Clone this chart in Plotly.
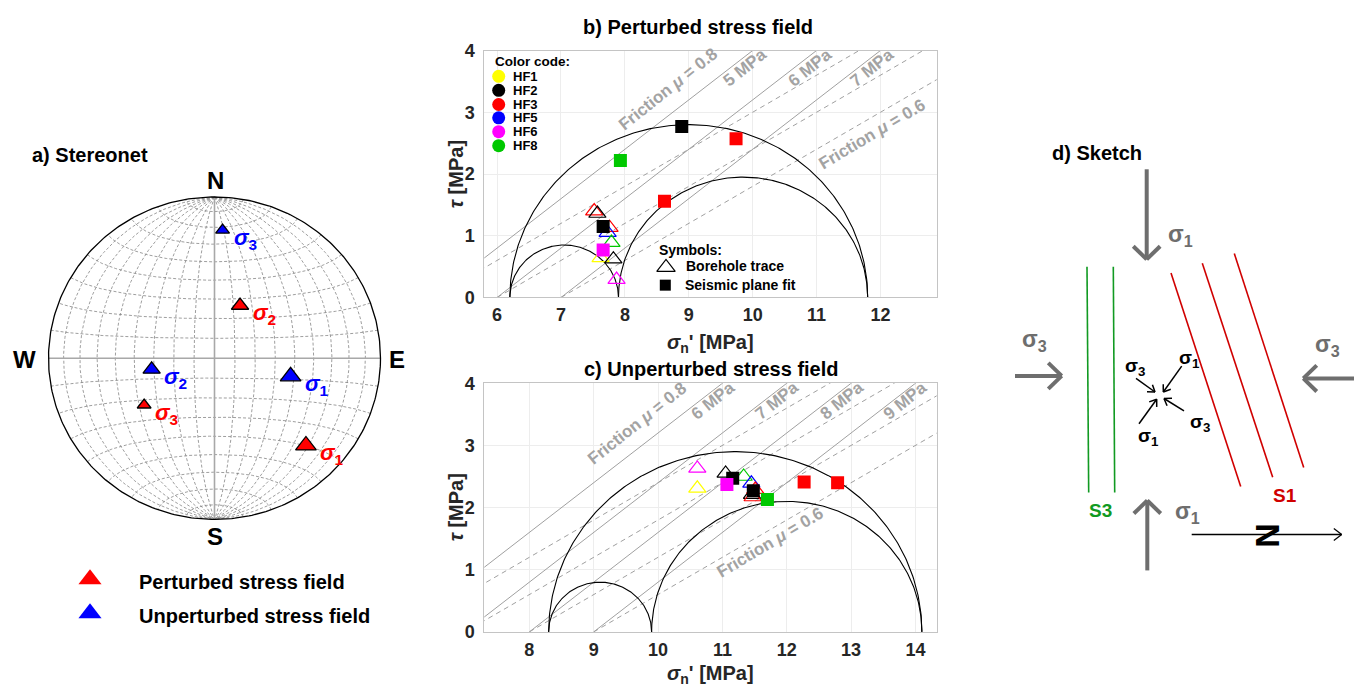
import numpy as np
import plotly.graph_objects as go

W, H = 1354, 696

# ---------------- data ----------------
hf_names = ["HF1", "HF2", "HF3", "HF5", "HF6", "HF8"]

# Panel b: perturbed stress field (effective principal stresses, MPa)
b_principal = [11.8, 7.9, 6.2]
b_pore = [5, 6, 7]
b_tri_hf = ["HF3", "HF2", "HF3", "HF5", "HF8", "HF1", "HF2", "HF6"]
b_tri_sn = [7.52, 7.57, 7.76, 7.73, 7.79, 7.62, 7.82, 7.87]
b_tri_tau = [1.40, 1.36, 1.13, 1.05, 0.89, 0.64, 0.62, 0.29]
b_sq_hf = ["HF2", "HF3", "HF8", "HF3", "HF2", "HF6"]
b_sq_sn = [8.89, 9.74, 7.93, 8.62, 7.66, 7.66]
b_sq_tau = [2.77, 2.57, 2.22, 1.56, 1.15, 0.77]

# Panel c: unperturbed stress field
c_principal = [14.1, 9.9, 8.3]
c_pore = [6, 7, 8, 9]
c_tri_hf = ["HF6", "HF1", "HF2", "HF8", "HF5", "HF2", "HF3", "HF3"]
c_tri_sn = [10.61, 10.61, 11.05, 11.33, 11.45, 11.46, 11.51, 11.47]
c_tri_tau = [2.63, 2.31, 2.55, 2.50, 2.39, 2.21, 2.29, 2.17]
c_sq_hf = ["HF2", "HF6", "HF2", "HF8", "HF3", "HF3"]
c_sq_sn = [11.16, 11.07, 11.48, 11.70, 12.27, 12.79]
c_sq_tau = [2.47, 2.37, 2.27, 2.13, 2.41, 2.40]

friction = [0.8, 0.6]

# Panel a: stereonet principal axes (trend, plunge in degrees)
st_field = ["Perturbed", "Perturbed", "Perturbed", "Unperturbed", "Unperturbed", "Unperturbed"]
st_axis = ["1", "2", "3", "1", "2", "3"]
st_trend = [134.5, 25.2, 235.6, 103.8, 259.6, 3.5]
st_plunge = [23.8, 60.4, 47.4, 51.0, 58.4, 21.5]

# ---------------- styles ----------------
hf_color = {"HF1": "#ffff00", "HF2": "#000000", "HF3": "#ff0000",
            "HF5": "#0000ff", "HF6": "#ff00ff", "HF8": "#00c800"}
field_color = {"Perturbed": "#ff0000", "Unperturbed": "#0000ff"}
axis_size = {"1": 18, "2": 15, "3": 12}
FONT = "Liberation Sans, Arial, sans-serif"
DARK = "#262626"
LGRAY = "#a3a3a3"

fig = go.Figure()
annotations = []
shapes = []


def px_dom_x(a, b):
    return [a / W, b / W]


def px_dom_y(top, bottom):
    return [1 - bottom / H, 1 - top / H]


# ---------------- Mohr panels ----------------
def mohr_panel(xa, ya, principal, pores, tri_hf, tri_sn, tri_tau, sq_hf, sq_sn, sq_tau, xmax):
    s1, s2, s3 = principal
    th = np.linspace(0, np.pi, 240)
    for pp in pores:
        for mu in friction:
            xs = np.array([pp, xmax + 1])
            fig.add_trace(go.Scatter(x=xs, y=mu * (xs - pp), mode="lines", xaxis=xa, yaxis=ya,
                                     line=dict(color="#a0a0a0", width=1,
                                               dash="solid" if mu == friction[0] else "5px,4px"),
                                     showlegend=False, hoverinfo="skip"))
    for a, b in [(s1, s3), (s2, s3), (s1, s2)]:
        c, r = (a + b) / 2, (a - b) / 2
        fig.add_trace(go.Scatter(x=c + r * np.cos(th), y=r * np.sin(th), mode="lines",
                                 xaxis=xa, yaxis=ya, line=dict(color="black", width=1.1),
                                 showlegend=False, hoverinfo="skip"))
    fig.add_trace(go.Scatter(x=tri_sn, y=tri_tau, mode="markers", xaxis=xa, yaxis=ya,
                             marker=dict(symbol="triangle-up-open", size=15, opacity=1,
                                         color=[hf_color[h] for h in tri_hf],
                                         line=dict(width=1.2)),
                             showlegend=False))
    fig.add_trace(go.Scatter(x=sq_sn, y=sq_tau, mode="markers", xaxis=xa, yaxis=ya,
                             marker=dict(symbol="square", size=13, opacity=1,
                                         color=[hf_color[h] for h in sq_hf],
                                         line=dict(width=0)),
                             showlegend=False))


mohr_panel("x", "y", b_principal, b_pore, b_tri_hf, b_tri_sn, b_tri_tau,
           b_sq_hf, b_sq_sn, b_sq_tau, 12.88)
mohr_panel("x2", "y2", c_principal, c_pore, c_tri_hf, c_tri_sn, c_tri_tau,
           c_sq_hf, c_sq_sn, c_sq_tau, 14.33)

axis_common = dict(showline=True, mirror=True, linecolor="#c4c4c4", linewidth=1,
                   showgrid=True, gridcolor="#ededed", zeroline=False, ticks="",
                   tickfont=dict(family=FONT, size=18, color=DARK, weight="bold"))

fig.update_layout(
    xaxis=dict(domain=px_dom_x(484.3, 936.7), range=[5.8, 12.88], dtick=1, anchor="y",
               ticklabelstandoff=1, **axis_common),
    yaxis=dict(domain=px_dom_y(41.7, 296), range=[0, 4], dtick=1, anchor="x",
               ticklabelstandoff=5, **axis_common),
    xaxis2=dict(domain=px_dom_x(484.3, 936.7), range=[7.3, 14.33], dtick=1, anchor="y2",
                ticklabelstandoff=1, **axis_common),
    yaxis2=dict(domain=px_dom_y(384.3, 640.3), range=[0, 4], dtick=1, anchor="x2",
                ticklabelstandoff=5, **axis_common),
)


def ann(x, y, text, size, color=DARK, xref="x4", yref="y4", angle=0, xanchor="center",
        yanchor="middle", xshift=0, yshift=0):
    annotations.append(dict(x=x, y=y, xref=xref, yref=yref, text=text, showarrow=False,
                            textangle=angle, xanchor=xanchor, yanchor=yanchor,
                            xshift=xshift, yshift=yshift,
                            font=dict(family=FONT, size=size, color=color, weight="bold")))


# friction / pore-pressure labels
ang08 = -np.degrees(np.arctan(0.8 * 63.6 / 63.9))
ang06 = -np.degrees(np.arctan(0.6 * 63.6 / 63.9))
ann(8.67, 3.37, "Friction <i>μ</i> = 0.8", 17, LGRAY, "x", "y", ang08)
for pp, xx in zip(b_pore, [9.88, 10.90, 11.87]):
    ann(xx, 3.73, f"{pp} MPa", 17, LGRAY, "x", "y", ang08)
ann(11.86, 2.64, "Friction <i>μ</i> = 0.6", 17, LGRAY, "x", "y", ang06)

ann(9.675, 3.353, "Friction <i>μ</i> = 0.8", 17, LGRAY, "x2", "y2", ang08)
for pp, xx in zip(c_pore, [10.857, 11.848, 12.858, 13.843]):
    ann(xx, 3.728, f"{pp} MPa", 17, LGRAY, "x2", "y2", ang08)
ann(11.743, 1.4375, "Friction <i>μ</i> = 0.6", 17, LGRAY, "x2", "y2", ang06)

# titles & axis titles
ann(698, 18, "b) Perturbed stress field", 20, "black")
ann(711, 370, "c) Unperturbed stress field", 20, "black")
ann(710.5, 343, "<i>σ</i><sub>n</sub>' [MPa]", 20)
ann(710.5, 684, "<i>σ</i><sub>n</sub>' [MPa]", 20)
ann(456, 169, "<i>τ</i> [MPa]", 20, angle=-90)
ann(456, 512, "<i>τ</i> [MPa]", 20, angle=-90)

# color-code legend (panel b)
leg_y = [68.3, 82.7, 97.3, 111.0, 125.3, 139.7]
ann(493, 53, "Color code:", 13.5, "black", xanchor="left")
fig.add_trace(go.Scatter(x=[498.7] * len(hf_names), y=leg_y, mode="markers", xaxis="x4", yaxis="y4",
                         marker=dict(symbol="circle", size=13, opacity=1,
                                     color=[hf_color[h] for h in hf_names]),
                         showlegend=False, hoverinfo="skip"))
for name, yy in zip(hf_names, leg_y):
    ann(510.7, yy, name, 13, "black", xanchor="left")

ann(656.7, 246.7, "Symbols:", 14, "black", xanchor="left")
fig.add_trace(go.Scatter(x=[666], y=[265], mode="markers", xaxis="x4", yaxis="y4",
                         marker=dict(symbol="triangle-up-open", size=16, color="black", line=dict(width=1.2)),
                         showlegend=False, hoverinfo="skip"))
fig.add_trace(go.Scatter(x=[665.3], y=[283.3], mode="markers", xaxis="x4", yaxis="y4",
                         marker=dict(symbol="square", size=11, color="black"),
                         showlegend=False, hoverinfo="skip"))
ann(684.3, 263.3, "Borehole trace", 14, "black", xanchor="left")
ann(683.3, 283.3, "Seismic plane fit", 14, "black", xanchor="left")

# ---------------- stereonet (equal-area, lower hemisphere) ----------------
CX, CY, R = 214.5, 358.5, 166.0
sx0, sx1, sy0, sy1 = 14, 414, 160, 560
fig.update_layout(
    xaxis3=dict(domain=px_dom_x(sx0, sx1), range=[(sx0 - CX) / R, (sx1 - CX) / R], visible=False,
                anchor="y3", fixedrange=True),
    yaxis3=dict(domain=px_dom_y(sy0, sy1), range=[(CY - sy1) / R, (CY - sy0) / R], visible=False,
                anchor="x3", fixedrange=True),
)


def proj(vx, vy, vz):
    d = np.sqrt(1 - vz)
    return vx / d, vy / d


gx, gy = [], []
al = np.linspace(0, np.pi, 181)
for dd in range(10, 90, 10):
    dr = np.radians(dd)
    for sgn in (1, -1):
        x, y = proj(sgn * np.sin(al) * np.cos(dr), np.cos(al), -np.sin(al) * np.sin(dr))
        gx += list(x) + [None]
        gy += list(y) + [None]
for bb in range(10, 180, 10):
    if bb == 90:
        continue
    br = np.radians(bb)
    x, y = proj(np.sin(br) * np.cos(al), np.cos(br) * np.ones_like(al), -np.sin(br) * np.sin(al))
    gx += list(x) + [None]
    gy += list(y) + [None]
fig.add_trace(go.Scatter(x=gx, y=gy, mode="lines", xaxis="x3", yaxis="y3",
                         line=dict(color="#858585", width=0.8, dash="3px,2px"),
                         showlegend=False, hoverinfo="skip"))
fig.add_trace(go.Scatter(x=[0, 0, None, -1, 1], y=[-1, 1, None, 0, 0], mode="lines", xaxis="x3", yaxis="y3",
                         line=dict(color="#a8a8a8", width=1.6), showlegend=False, hoverinfo="skip"))
tt = np.linspace(0, 2 * np.pi, 361)
fig.add_trace(go.Scatter(x=np.cos(tt), y=np.sin(tt), mode="lines", xaxis="x3", yaxis="y3",
                         line=dict(color="black", width=1.3), showlegend=False, hoverinfo="skip"))

tr = np.radians(st_trend)
pl = np.radians(st_plunge)
px_, py_ = proj(np.cos(pl) * np.sin(tr), np.cos(pl) * np.cos(tr), -np.sin(pl))
fig.add_trace(go.Scatter(x=px_, y=py_, mode="markers", xaxis="x3", yaxis="y3",
                         marker=dict(symbol="triangle-up", size=[axis_size[a] for a in st_axis],
                                     opacity=1, color=[field_color[f] for f in st_field],
                                     line=dict(color="black", width=1.3)),
                         showlegend=False, hoverinfo="skip"))
for f, a, x, y in zip(st_field, st_axis, px_, py_):
    ann(x, y, f"<i>σ</i><sub>{a}</sub>", 22, field_color[f], "x3", "y3",
        xanchor="left", xshift=axis_size[a] / 2 + 3, yshift=-9)

ann(215, 176, "N", 24, "black")
ann(215, 542, "S", 24, "black")
ann(24, 360, "W", 24, "black")
ann(397, 360, "E", 24, "black")
ann(30, 149, "a) Stereonet", 20, "black", xanchor="left")

fig.add_trace(go.Scatter(x=[90, 90], y=[586, 621], mode="markers", xaxis="x4", yaxis="y4",
                         marker=dict(symbol="triangle-up", size=20, opacity=1,
                                     color=[field_color["Perturbed"], field_color["Unperturbed"]]),
                         showlegend=False, hoverinfo="skip"))
ann(136.7, 589, "Perturbed stress field", 20, "black", xanchor="left")
ann(136.7, 624, "Unperturbed stress field", 20, "black", xanchor="left")


# ---------------- sketch (panel d) ----------------
def seg(x0, y0, x1, y1, color, width):
    shapes.append(dict(type="line", xref="x4", yref="y4", x0=x0, y0=y0, x1=x1, y1=y1,
                       line=dict(color=color, width=width)))


def arrow(x0, y0, x1, y1, color, width, hl, ha):
    seg(x0, y0, x1, y1, color, width)
    L = np.hypot(x1 - x0, y1 - y0)
    vx, vy = -(x1 - x0) / L, -(y1 - y0) / L
    a = np.radians(ha)
    for s in (1, -1):
        rx = vx * np.cos(s * a) - vy * np.sin(s * a)
        ry = vx * np.sin(s * a) + vy * np.cos(s * a)
        seg(x1, y1, x1 + hl * rx, y1 + hl * ry, color, width)


G = "#6e6e6e"
arrow(1146.7, 164, 1146.7, 256.7, G, 4, 19, 45)
arrow(1147.3, 577, 1147.3, 505, G, 4, 19, 45)
arrow(1015, 376.7, 1061.7, 376.7, G, 4, 19, 45)
arrow(1354, 379.3, 1303.3, 379.3, G, 4, 19, 45)
ann(1180, 232, "σ<sub>1</sub>", 23, G)
ann(1187, 517, "σ<sub>1</sub>", 23, G)
ann(1034, 340, "σ<sub>3</sub>", 23, G)
ann(1327, 345, "σ<sub>3</sub>", 23, G)

GR = "#119a22"
seg(1087, 264.3, 1088.7, 496.7, GR, 1.6)
seg(1113.3, 264.3, 1114.7, 496.7, GR, 1.6)
ann(1100, 515, "S3", 19, GR)
RD = "#d00000"
seg(1171, 270.7, 1240.7, 490.7, RD, 1.6)
seg(1202.3, 260.7, 1272.7, 481, RD, 1.6)
seg(1234.3, 250.7, 1303.7, 471, RD, 1.6)
ann(1285, 500, "S1", 19, RD)

arrow(1181.7, 366.7, 1163.3, 393.3, "black", 1.5, 8, 35)
arrow(1139, 426, 1156.7, 400.7, "black", 1.5, 8, 35)
arrow(1136, 379.3, 1155, 393.3, "black", 1.5, 8, 35)
arrow(1184, 412.7, 1164, 400, "black", 1.5, 8, 35)
ann(1189, 359, "σ<sub>1</sub>", 19, "black")
ann(1148, 440, "σ<sub>1</sub>", 19, "black")
ann(1135, 368, "σ<sub>3</sub>", 19, "black")
ann(1200, 425, "σ<sub>3</sub>", 19, "black")

arrow(1191.7, 540, 1341.7, 540, "black", 1.3, 10, 38)
ann(1268, 540.7, "N", 34, "black", angle=90)
ann(1050, 147, "d) Sketch", 20, "black", xanchor="left")

fig.update_layout(
    xaxis4=dict(domain=[0, 1], range=[0, W], visible=False, anchor="y4", fixedrange=True),
    yaxis4=dict(domain=[0, 1], range=[H, 0], visible=False, anchor="x4", fixedrange=True),
    width=W, height=H, margin=dict(l=0, r=0, t=0, b=0), autosize=False,
    paper_bgcolor="white", plot_bgcolor="rgba(0,0,0,0)",
    annotations=annotations, shapes=shapes, showlegend=False,
    font=dict(family=FONT),
)

fig.write_html("out.html", config={"displayModeBar": False},
               post_script="document.body.style.margin='0';")
